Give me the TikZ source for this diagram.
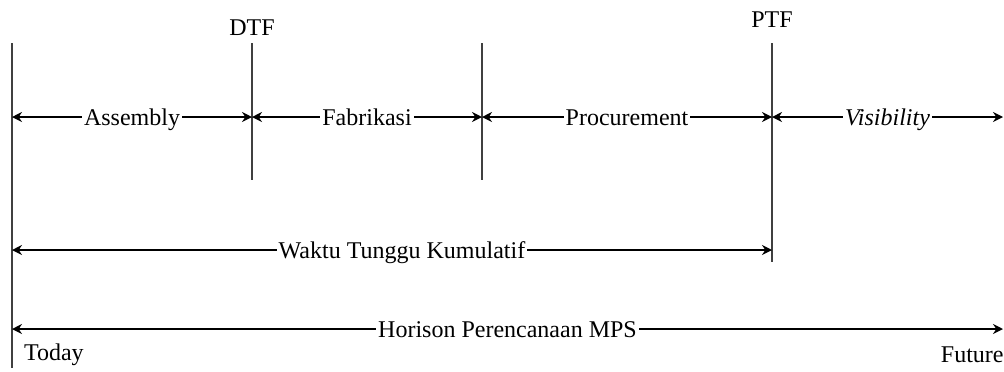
\documentclass[tikz,border=0pt]{standalone}
\usepackage{fontspec}
\setmainfont{Liberation Serif}
\usetikzlibrary{arrows.meta}
\begin{document}
\begin{tikzpicture}[x=0.5pt, y=-0.5pt, >={Stealth[length=5pt,width=5pt]},
    every node/.style={font=\fontsize{12}{14}\selectfont},
    fence/.style={draw=black!75, line width=0.7pt},
    span/.style={<->, line width=0.75pt},
    lbl/.style={fill=white, inner sep=1pt, text height=1.6ex, text depth=0.5ex, yshift=-1.5pt}]
  \useasboundingbox (0,0) rectangle (1004,371);
  \coordinate (today top) at (12,43); \coordinate (today bot) at (12,368);
  \coordinate (dtf top) at (252,43); \coordinate (dtf bot) at (252,180);
  \coordinate (fab top) at (482,43); \coordinate (fab bot) at (482,180);
  \coordinate (ptf top) at (772,43); \coordinate (ptf bot) at (772,262);
  \draw[fence, line width=1.1pt] (today top) -- (today bot);
  \draw[fence] (dtf top) -- (dtf bot); \node[above] (dtf) at (dtf top) {DTF};
  \draw[fence] (fab top) -- (fab bot);
  \draw[fence] (ptf top) -- (ptf bot); \node[above] (ptf) at ([yshift=4pt]ptf top) {PTF};
  % time fences
  \coordinate (a0) at (12,117); \coordinate (a1) at (252,117); \coordinate (a2) at (482,117);
  \coordinate (a3) at (772,117); \coordinate (a4) at (1003,117);
  \draw[span] (a0) -- node[lbl] (assy) {Assembly} (a1);
  \draw[span] (a1) -- node[lbl] (fabr) {Fabrikasi} (a2);
  \draw[span] (a2) -- node[lbl] (proc) {Procurement} (a3);
  \draw[span] (a3) -- node[lbl] (vis) {\itshape Visibility} (a4);
  % horizons
  \coordinate (w0) at (12,250); \coordinate (w1) at (772,250);
  \draw[span] (w0) -- node[lbl, xshift=5pt] (wtk) {Waktu Tunggu Kumulatif} (w1);
  \coordinate (h0) at (12,329); \coordinate (h1) at (1003,329);
  \draw[span] (h0) -- node[lbl] (mps) {Horison Perencanaan MPS} (h1);
  \node[anchor=west] (today) at (17,355) {Today};
  \node[anchor=east, inner sep=0pt] (future) at (1004,355) {Future};
\end{tikzpicture}
\end{document}
